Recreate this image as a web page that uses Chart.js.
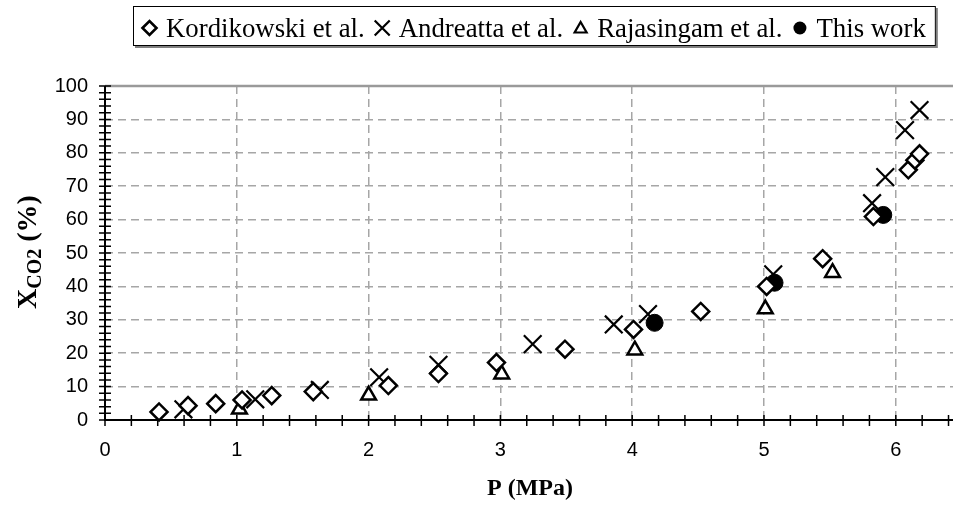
<!DOCTYPE html>
<html>
<head>
<meta charset="utf-8">
<script src="https://cdn.jsdelivr.net/npm/chart.js@4.4.0/dist/chart.umd.min.js"></script>
<style>
  html, body { margin: 0; padding: 0; background: #fff; overflow: hidden; }
  #wrap { width: 954px; height: 508px; }
  canvas { display: block; }
</style>
</head>
<body>
<div id="wrap"><canvas id="myChart" width="954" height="508"></canvas></div>
<script>
// pressure P (MPa) and CO2 mole fraction X (%)
const kordikowskiP = [0.41, 0.63, 0.84, 1.04, 1.265, 1.58, 2.15, 2.53, 2.97, 3.49, 4.01, 4.52, 5.02, 5.445, 5.83, 6.095, 6.145, 6.18];
const kordikowskiX = [2.4, 4.3, 4.9, 6.0, 7.3, 8.5, 10.3, 13.9, 17.2, 21.2, 27.1, 32.5, 40.0, 48.3, 60.9, 74.9, 77.8, 79.7];

const andreattaP = [0.595, 1.14, 1.63, 2.08, 2.53, 3.245, 3.86, 4.12, 5.07, 5.82, 5.92, 6.07, 6.18];
const andreattaX = [3.2, 6.2, 9.0, 12.8, 16.5, 22.7, 28.6, 31.7, 43.6, 64.9, 72.7, 86.8, 92.8];

const rajasingamP = [1.02, 2.0, 3.01, 4.02, 5.01, 5.52];
const rajasingamX = [3.2, 7.4, 13.7, 20.9, 33.2, 44.1];

const thisWorkP = [4.17, 5.08, 5.905];
const thisWorkX = [29.1, 41.1, 61.4];

const seriesNames = ['Kordikowski et al.', 'Andreatta et al.', 'Rajasingam et al.', 'This work'];
const xTicks = [0, 1, 2, 3, 4, 5, 6];
const yTicks = [0, 10, 20, 30, 40, 50, 60, 70, 80, 90, 100];

const pts = (xs, ys) => xs.map((x, i) => ({ x: x, y: ys[i] }));

// legend marker drawing
function marker(ctx, kind, x, y) {
  ctx.save();
  ctx.strokeStyle = '#000';
  ctx.fillStyle = '#000';
  ctx.beginPath();
  if (kind === 'diamond') {
    ctx.lineWidth = 2.6;
    ctx.moveTo(x - 7, y); ctx.lineTo(x, y - 7); ctx.lineTo(x + 7, y); ctx.lineTo(x, y + 7); ctx.closePath();
    ctx.stroke();
  } else if (kind === 'cross') {
    ctx.lineWidth = 2.2;
    ctx.moveTo(x - 7.5, y - 7.5); ctx.lineTo(x + 7.5, y + 7.5);
    ctx.moveTo(x + 7.5, y - 7.5); ctx.lineTo(x - 7.5, y + 7.5);
    ctx.stroke();
  } else if (kind === 'triangle') {
    ctx.lineWidth = 2.2;
    ctx.moveTo(x, y - 6); ctx.lineTo(x + 6, y + 4.5); ctx.lineTo(x - 6, y + 4.5); ctx.closePath();
    ctx.stroke();
  } else {
    ctx.arc(x, y, 6.5, 0, Math.PI * 2);
    ctx.fill();
  }
  ctx.restore();
}

const framePlugin = {
  id: 'frame',
  beforeDatasetsDraw(chart) {
    const { ctx, chartArea: a, scales: { x, y } } = chart;
    ctx.save();
    ctx.strokeStyle = '#9a9a9a';
    ctx.lineWidth = 2.5;
    ctx.beginPath(); ctx.moveTo(a.left, a.top); ctx.lineTo(a.right, a.top); ctx.stroke();

    ctx.strokeStyle = '#000';
    ctx.lineWidth = 2;
    ctx.beginPath();
    ctx.moveTo(a.left, a.top); ctx.lineTo(a.left, a.bottom); ctx.lineTo(a.right, a.bottom);
    ctx.stroke();

    // crossing tick marks, minor every 2 % and 0.2 MPa
    ctx.lineWidth = 1.5;
    ctx.beginPath();
    for (let v = 0; v <= 100; v += 2) {
      const py = y.getPixelForValue(v);
      ctx.moveTo(a.left - 6, py); ctx.lineTo(a.left + 6, py);
    }
    for (let i = 0; i <= 32; i++) {
      const px = x.getPixelForValue(i * 0.2);
      ctx.moveTo(px, a.bottom - 5); ctx.lineTo(px, a.bottom + 6);
    }
    ctx.stroke();
    ctx.restore();
  },
  afterDraw(chart) {
    const { ctx } = chart;
    ctx.save();
    ctx.fillStyle = '#000';
    ctx.textBaseline = 'middle';

    // x title
    ctx.font = 'bold 24px "Liberation Serif"';
    ctx.textAlign = 'center';
    ctx.fillText('P (MPa)', 530, 489);

    // y title with subscript
    ctx.translate(27, 252);
    ctx.rotate(-Math.PI / 2);
    const big = 'bold 28px "Liberation Serif"';
    const small = 'bold 20px "Liberation Serif"';
    ctx.font = big; const w1 = ctx.measureText('X').width;
    ctx.font = small; const w2 = ctx.measureText('CO2').width;
    ctx.font = big; const w3 = ctx.measureText(' (%)').width;
    let tx = -(w1 + w2 + w3) / 2;
    ctx.textAlign = 'left';
    ctx.textBaseline = 'alphabetic';
    ctx.font = big; ctx.fillText('X', tx, 9); tx += w1;
    ctx.font = small; ctx.fillText('CO2', tx, 14); tx += w2;
    ctx.font = big; ctx.fillText(' (%)', tx, 9);
    ctx.restore();

    // legend box
    ctx.save();
    ctx.font = '26.8px "Liberation Serif"';
    const kinds = ['diamond', 'cross', 'triangle', 'circle'];
    const left = 133, top = 6, h = 40;
    let cx = left + 9;
    const items = seriesNames.map((name, i) => {
      const it = { kind: kinds[i], mx: cx + 7.5, tx: cx + 24, name: name };
      cx = it.tx + ctx.measureText(name).width + 10;
      return it;
    });
    const right = cx;
    ctx.fillStyle = '#7f7f7f';
    ctx.fillRect(left + 2, top + 2, right - left, h);
    ctx.fillStyle = '#fff';
    ctx.fillRect(left, top, right - left, h);
    ctx.strokeStyle = '#000';
    ctx.lineWidth = 1;
    ctx.strokeRect(left + 0.5, top + 0.5, right - left - 1, h - 1);
    ctx.fillStyle = '#000';
    ctx.textAlign = 'left';
    ctx.textBaseline = 'alphabetic';
    items.forEach(it => {
      marker(ctx, it.kind, it.mx, 28);
      ctx.fillText(it.name, it.tx, 36.5);
    });
    ctx.restore();
  }
};

new Chart(document.getElementById('myChart').getContext('2d'), {
  type: 'scatter',
  data: {
    datasets: [
      {
        label: seriesNames[0], data: pts(kordikowskiP, kordikowskiX),
        pointStyle: 'rectRot', pointRadius: 8.5, pointHoverRadius: 8.5,
        backgroundColor: '#fff', borderColor: '#000', borderWidth: 2.5, pointBorderWidth: 2.5
      },
      {
        label: seriesNames[1], data: pts(andreattaP, andreattaX),
        pointStyle: 'crossRot', pointRadius: 12.5, pointHoverRadius: 12.5,
        backgroundColor: '#000', borderColor: '#000', pointBorderWidth: 2.2
      },
      {
        label: seriesNames[2], data: pts(rajasingamP, rajasingamX),
        pointStyle: 'triangle', pointRadius: 8.5, pointHoverRadius: 8.5,
        backgroundColor: '#fff', borderColor: '#000', pointBorderWidth: 2.5
      },
      {
        label: seriesNames[3], data: pts(thisWorkP, thisWorkX),
        pointStyle: 'circle', pointRadius: 8.5, pointHoverRadius: 8.5,
        backgroundColor: '#000', borderColor: '#000', pointBorderWidth: 1
      }
    ]
  },
  options: {
    responsive: false,
    animation: false,
    layout: { autoPadding: false, padding: { top: 86, right: 1, left: 0, bottom: 0 } },
    elements: { point: { hitRadius: 0 } },
    datasets: { scatter: { clip: false } },
    plugins: { legend: { display: false }, tooltip: { enabled: false } },
    scales: {
      x: {
        type: 'linear', min: 0, max: 6.434,
        afterBuildTicks: s => { s.ticks = xTicks.map(v => ({ value: v })); },
        afterFit: s => { s.height = 88; s.paddingLeft = 0; s.paddingRight = 0; },
        ticks: { color: '#000', padding: 18, font: { family: 'Liberation Sans', size: 20 } },
        grid: { color: '#a6a6a6', lineWidth: 1.5, drawTicks: false },
        border: { display: false, dash: [8, 5] }
      },
      y: {
        type: 'linear', min: 0, max: 100,
        afterBuildTicks: s => { s.ticks = yTicks.map(v => ({ value: v })); },
        afterFit: s => { s.width = 105; s.paddingTop = 0; s.paddingBottom = 0; },
        ticks: { color: '#000', padding: 17, font: { family: 'Liberation Sans', size: 20 } },
        grid: { color: '#a6a6a6', lineWidth: 1.5, drawTicks: false },
        border: { display: false, dash: [8, 5] }
      }
    }
  },
  plugins: [framePlugin]
});
</script>
</body>
</html>
